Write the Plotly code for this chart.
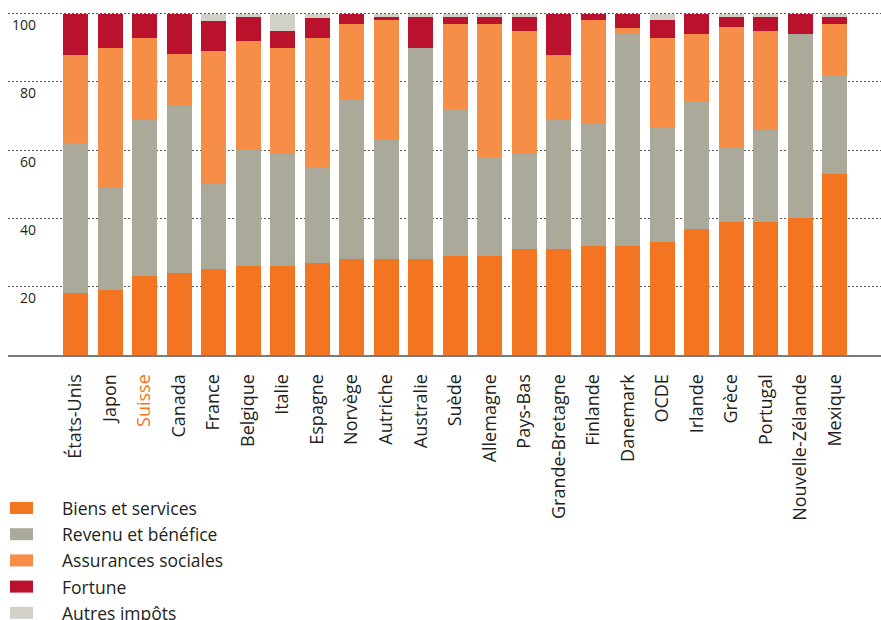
import plotly.graph_objects as go

categories = ["États-Unis", "Japon", "Suisse", "Canada", "France", "Belgique", "Italie",
              "Espagne", "Norvège", "Autriche", "Australie", "Suède", "Allemagne",
              "Pays-Bas", "Grande-Bretagne", "Finlande", "Danemark", "OCDE", "Irlande",
              "Grèce", "Portugal", "Nouvelle-Zélande", "Mexique"]
highlight = "Suisse"

biens = [18.2, 19.0, 23.2, 24.0, 25.2, 26.2, 26.2, 27.0, 28.1, 28.1, 28.1, 29.0,
         29.0, 31.1, 31.1, 31.9, 31.9, 33.1, 36.9, 39.0, 39.0, 40.1, 53.1]
revenu = [43.9, 30.0, 45.7, 49.0, 25.0, 34.0, 32.8, 28.0, 47.0, 34.9, 61.9, 43.2,
          29.0, 27.9, 37.8, 36.2, 62.2, 33.8, 37.3, 21.9, 26.9, 54.0, 28.8]
assurances = [25.8, 41.0, 24.0, 15.2, 38.9, 31.8, 31.0, 37.9, 21.9, 35.2, 0.0, 24.8,
              39.0, 35.9, 19.0, 30.1, 1.7, 26.0, 19.9, 35.2, 29.0, 0.0, 15.1]
fortune = [12.1, 10.0, 7.1, 11.8, 8.8, 7.0, 4.9, 5.8, 3.0, 0.8, 9.0, 2.0,
           2.0, 4.1, 12.1, 1.8, 4.2, 5.3, 5.9, 2.9, 4.1, 5.9, 2.0]
autres = [0.0, 0.0, 0.0, 0.0, 2.1, 1.0, 5.1, 1.3, 0.0, 1.0, 1.0, 1.0,
          1.0, 1.0, 0.0, 0.0, 0.0, 1.8, 0.0, 1.0, 1.0, 0.0, 1.0]

series_names = ["Biens et services", "Revenu et bénéfice", "Assurances sociales",
                "Fortune", "Autres impôts"]
series_values = [biens, revenu, assurances, fortune, autres]
series_colors = ["#F47521", "#ABA99A", "#F78E48", "#BA112C", "#D2D1C7"]

y_ticks = [20, 40, 60, 80, 100]

TEXT = "#231F20"
FONT = "Open Sans"

W, H = 881, 620
ML, MR, MT, MB = 8, 0, 12, 265
PW = W - ML - MR
PH = H - MT - MB

fig = go.Figure()
for name, vals, col in zip(series_names, series_values, series_colors):
    fig.add_trace(go.Bar(x=categories, y=vals, name=name,
                         marker=dict(color=col, line=dict(width=0)),
                         showlegend=False))

ticktext = [f'<span style="color:#F47521">{c}</span>' if c == highlight else c
            for c in categories]

def px_x(p):
    return (p - ML) / PW

def px_y(p):
    return (H - MB - p) / PH

annotations = []
for v in y_ticks:
    annotations.append(dict(x=px_x(37.5), xref="paper", y=v, yref="y",
                            text=str(v), showarrow=False, xanchor="right",
                            yanchor="middle", yshift=-11,
                            font=dict(family=FONT, size=14, color=TEXT)))

shapes = []
leg_top = 508
leg_step = 26.2
for i, (name, col) in enumerate(zip(series_names, series_colors)):
    cy = leg_top + i * leg_step
    shapes.append(dict(type="rect", xref="paper", yref="paper",
                       x0=px_x(10), x1=px_x(33), y0=px_y(cy - 6), y1=px_y(cy + 6),
                       fillcolor=col, line=dict(width=0)))
    annotations.append(dict(x=px_x(60), xref="paper", y=px_y(cy), yref="paper",
                            text=name, showarrow=False, xanchor="left",
                            yanchor="middle",
                            font=dict(family=FONT, size=17.5, color=TEXT)))

fig.update_layout(
    width=W, height=H,
    margin=dict(l=ML, r=MR, t=MT, b=MB, pad=0),
    barmode="stack",
    bargap=0.276,
    plot_bgcolor="white", paper_bgcolor="white",
    font=dict(family=FONT, color=TEXT),
    annotations=annotations,
    shapes=shapes,
    showlegend=False,
)
fig.update_xaxes(type="category", range=[-1.955, 23.335],
                 tickvals=categories, ticktext=ticktext, tickangle=-90,
                 tickfont=dict(family=FONT, size=18, color=TEXT),
                 ticks="outside", ticklen=10, tickcolor="rgba(0,0,0,0)",
                 showline=True, linecolor="#7A7A7A", linewidth=2,
                 showgrid=False, automargin=False, fixedrange=True)
fig.update_yaxes(range=[0, 100.5], tickvals=y_ticks, showticklabels=False,
                 showgrid=True, gridcolor="#555555", gridwidth=1, griddash="2px,2px",
                 zeroline=False, showline=False, automargin=False, fixedrange=True)

fig.write_html("out.html", config={"displayModeBar": False})
